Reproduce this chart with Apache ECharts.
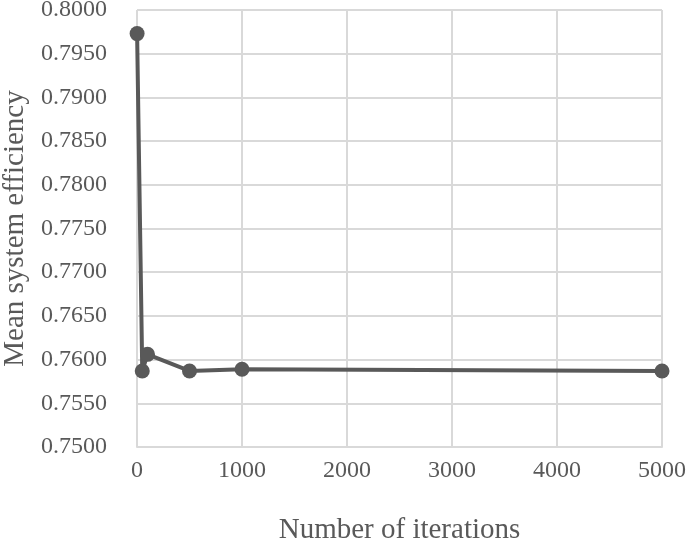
<!DOCTYPE html>
<html>
<head>
<meta charset="utf-8">
<script src="https://cdn.jsdelivr.net/npm/echarts@6/dist/echarts.min.js"></script>
<style>
  html, body { margin: 0; padding: 0; background: #fff; }
  #chart { width: 688px; height: 545px; }
</style>
</head>
<body>
<div id="chart"></div>
<script>
// iterations vs mean efficiency
let iterations = [1, 50, 100, 500, 1000, 5000];
let efficiency = [0.7973, 0.7587, 0.7606, 0.7587, 0.7589, 0.7587];

let font = "'Liberation Serif', 'DejaVu Serif', serif";
let textColor = "#595959";

let myChart = echarts.init(document.getElementById("chart"));
myChart.setOption({
  animation: false,
  grid: {
    top: 10,
    left: 137,
    right: 26,
    bottom: 98,
    containLabel: false,
    outerBoundsMode: 'none'
  },
  xAxis: {
    type: 'value',
    min: 0,
    max: 5000,
    interval: 1000,
    name: 'Number of iterations',
    nameLocation: 'middle',
    nameGap: 69,
    nameTextStyle: { color: textColor, fontFamily: font, fontSize: 29 },
    axisLine: { show: true, lineStyle: { color: "#d9d9d9", width: 2 } },
    axisTick: { show: false },
    axisLabel: {
      color: textColor, fontFamily: font, fontSize: 24, margin: 12,
      formatter: v => String(v)
    },
    splitLine: { show: true, lineStyle: { color: "#d9d9d9", width: 2 } }
  },
  yAxis: {
    type: 'value',
    min: 0.75,
    max: 0.8,
    interval: 0.005,
    name: 'Mean system efficiency',
    nameLocation: 'middle',
    nameGap: 107,
    nameTextStyle: { color: textColor, fontFamily: font, fontSize: 29 },
    axisLine: { show: false },
    axisTick: { show: false },
    axisLabel: {
      color: textColor, fontFamily: font, fontSize: 24, margin: 30,
      formatter: v => v.toFixed(4)
    },
    splitLine: { show: true, lineStyle: { color: "#d9d9d9", width: 2 } }
  },
  series: [
    {
      type: 'line',
      data: iterations.map((x, i) => [x, efficiency[i]]),
      symbol: 'circle',
      symbolSize: 15,
      lineStyle: { color: "#595959", width: 4 },
      itemStyle: { color: "#595959" }
    }
  ]
});
</script>
</body>
</html>
